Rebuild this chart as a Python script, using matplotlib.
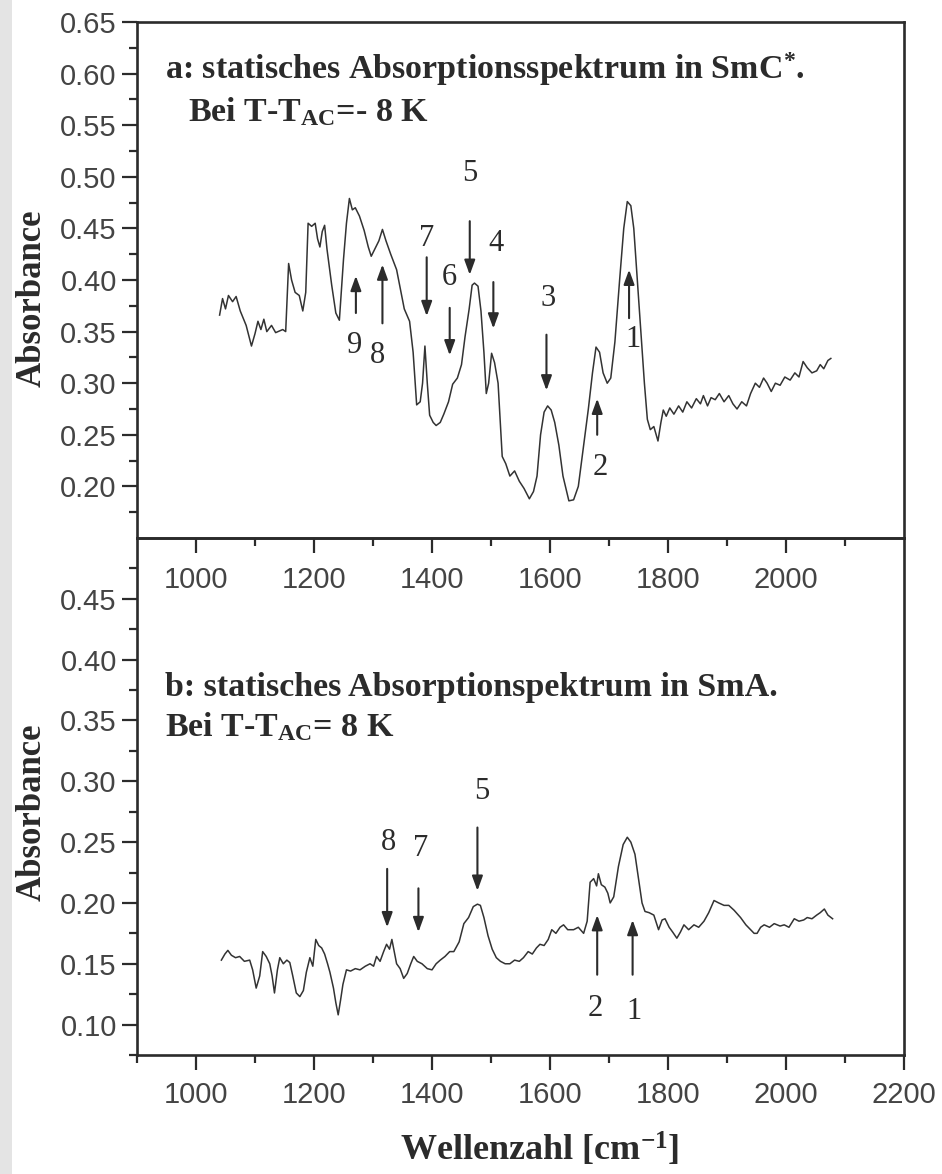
import matplotlib

matplotlib.use("Agg")
import matplotlib.pyplot as plt
from matplotlib.patches import Rectangle
from matplotlib.ticker import FixedLocator, MultipleLocator, FormatStrFormatter

# --- data ---------------------------------------------------------------
# panel a: SmC*  (T - T_AC = -8 K)
wn_a = [1040, 1045, 1050, 1055, 1062, 1068, 1075, 1085, 1094, 1100, 1105, 1110,
        1115, 1120, 1128, 1135, 1147, 1152, 1157, 1162, 1168, 1175, 1181, 1186,
        1190, 1196, 1202, 1206, 1210, 1214, 1218, 1222, 1230, 1237, 1243, 1250,
        1255, 1260, 1265, 1270, 1277, 1285, 1292, 1297, 1303, 1310, 1316, 1322,
        1330, 1340, 1353, 1362, 1368, 1374, 1380, 1384, 1388, 1392, 1396, 1402,
        1407, 1414, 1420, 1428, 1435, 1443, 1450, 1456, 1463, 1468, 1472, 1478,
        1483, 1488, 1492, 1496, 1501, 1506, 1512, 1519, 1525, 1532, 1540, 1548,
        1556, 1565, 1572, 1578, 1584, 1590, 1596, 1602, 1608, 1615, 1622, 1632,
        1640, 1648, 1656, 1665, 1672, 1678, 1684, 1690, 1697, 1703, 1710, 1718,
        1725, 1731, 1737, 1742, 1748, 1754, 1760, 1765, 1770, 1776, 1783, 1788,
        1792, 1797, 1803, 1810, 1818, 1825, 1832, 1840, 1848, 1855, 1860, 1867,
        1873, 1880, 1887, 1895, 1903, 1910, 1917, 1925, 1933, 1940, 1948, 1955,
        1962, 1968, 1975, 1982, 1990, 1998, 2007, 2015, 2022, 2029, 2036, 2044,
        2052, 2058, 2064, 2071, 2076]
ab_a = [0.366, 0.382, 0.372, 0.385, 0.379, 0.384, 0.370, 0.356, 0.336, 0.348, 0.360, 0.352,
        0.362, 0.350, 0.356, 0.349, 0.352, 0.350, 0.416, 0.400, 0.388, 0.385, 0.370, 0.388,
        0.455, 0.452, 0.455, 0.440, 0.432, 0.447, 0.453, 0.430, 0.395, 0.368, 0.361, 0.420,
        0.455, 0.479, 0.468, 0.470, 0.462, 0.448, 0.432, 0.423, 0.430, 0.438, 0.449, 0.438,
        0.425, 0.410, 0.372, 0.360, 0.330, 0.279, 0.282, 0.300, 0.336, 0.300, 0.269, 0.262,
        0.259, 0.262, 0.270, 0.282, 0.299, 0.305, 0.318, 0.345, 0.372, 0.395, 0.397, 0.394,
        0.370, 0.330, 0.290, 0.300, 0.329, 0.320, 0.300, 0.229, 0.222, 0.210, 0.215, 0.205,
        0.198, 0.188, 0.195, 0.210, 0.250, 0.272, 0.278, 0.274, 0.262, 0.240, 0.210, 0.186,
        0.187, 0.200, 0.235, 0.275, 0.310, 0.335, 0.330, 0.310, 0.300, 0.305, 0.340, 0.400,
        0.450, 0.476, 0.472, 0.450, 0.400, 0.350, 0.300, 0.265, 0.255, 0.258, 0.244, 0.262,
        0.274, 0.268, 0.276, 0.270, 0.278, 0.272, 0.282, 0.276, 0.285, 0.280, 0.288, 0.278,
        0.286, 0.284, 0.290, 0.282, 0.288, 0.280, 0.275, 0.282, 0.278, 0.290, 0.300, 0.296,
        0.305, 0.300, 0.292, 0.300, 0.298, 0.306, 0.303, 0.310, 0.306, 0.321, 0.315, 0.310,
        0.312, 0.318, 0.314, 0.322, 0.324]

# panel b: SmA  (T - T_AC = 8 K)
wn_b = [1043, 1049, 1054, 1060, 1067, 1074, 1082, 1091, 1096, 1102, 1108, 1113,
        1119, 1125, 1129, 1133, 1138, 1142, 1148, 1154, 1159, 1164, 1170, 1176,
        1182, 1187, 1193, 1198, 1203, 1208, 1213, 1218, 1223, 1227, 1233, 1237,
        1241, 1245, 1249, 1255, 1262, 1270, 1278, 1287, 1295, 1301, 1306, 1312,
        1318, 1323, 1328, 1332, 1336, 1340, 1346, 1352, 1358, 1364, 1369, 1375,
        1383, 1392, 1400, 1407, 1414, 1422, 1430, 1437, 1446, 1454, 1462, 1470,
        1477, 1482, 1488, 1495, 1502, 1509, 1516, 1524, 1532, 1540, 1548, 1555,
        1563, 1570, 1577, 1583, 1590, 1597, 1603, 1610, 1617, 1623, 1630, 1640,
        1648, 1657, 1663, 1668, 1674, 1679, 1682, 1687, 1693, 1698, 1702, 1708,
        1716, 1724, 1731, 1737, 1744, 1750, 1756, 1761, 1768, 1776, 1784, 1790,
        1795, 1802, 1808, 1815, 1821, 1827, 1835, 1844, 1852, 1861, 1869, 1878,
        1886, 1895, 1903, 1912, 1923, 1932, 1940, 1946, 1951, 1957, 1963, 1972,
        1980, 1990, 1997, 2005, 2014, 2022, 2030, 2036, 2044, 2052, 2058, 2065,
        2071, 2079]
ab_b = [0.153, 0.158, 0.161, 0.157, 0.155, 0.156, 0.152, 0.153, 0.145, 0.130, 0.140, 0.160,
        0.156, 0.150, 0.140, 0.126, 0.145, 0.155, 0.150, 0.153, 0.151, 0.140, 0.126, 0.123,
        0.128, 0.143, 0.155, 0.148, 0.170, 0.165, 0.163, 0.158, 0.150, 0.143, 0.130, 0.118,
        0.108, 0.120, 0.133, 0.145, 0.144, 0.146, 0.145, 0.148, 0.150, 0.148, 0.156, 0.152,
        0.160, 0.166, 0.162, 0.170, 0.160, 0.150, 0.146, 0.138, 0.142, 0.150, 0.156, 0.152,
        0.150, 0.146, 0.145, 0.150, 0.153, 0.156, 0.160, 0.160, 0.168, 0.183, 0.188, 0.197,
        0.199, 0.198, 0.188, 0.173, 0.162, 0.155, 0.152, 0.150, 0.150, 0.153, 0.152, 0.155,
        0.160, 0.158, 0.163, 0.166, 0.165, 0.170, 0.178, 0.175, 0.180, 0.182, 0.178, 0.178,
        0.180, 0.175, 0.185, 0.217, 0.220, 0.214, 0.224, 0.215, 0.213, 0.208, 0.200, 0.205,
        0.230, 0.248, 0.254, 0.250, 0.240, 0.220, 0.200, 0.193, 0.192, 0.190, 0.178, 0.186,
        0.187, 0.180, 0.176, 0.171, 0.176, 0.182, 0.178, 0.182, 0.180, 0.185, 0.192, 0.202,
        0.200, 0.198, 0.198, 0.194, 0.188, 0.182, 0.178, 0.175, 0.175, 0.180, 0.182, 0.180,
        0.183, 0.181, 0.182, 0.180, 0.187, 0.185, 0.186, 0.188, 0.187, 0.190, 0.192, 0.195,
        0.190, 0.187]

# band markers: label, x, label y, arrow tail y, arrow head y
marks_a = [("9", 1269, 0.337, 0.368, 0.404),
           ("8", 1308, 0.327, 0.358, 0.415),
           ("7", 1391, 0.440, 0.422, 0.365),
           ("6", 1430, 0.402, 0.373, 0.327),
           ("5", 1464, 0.503, 0.457, 0.405),
           ("4", 1509, 0.435, 0.398, 0.353),
           ("3", 1596, 0.382, 0.347, 0.293),
           ("2", 1685, 0.218, 0.250, 0.285),
           ("1", 1740, 0.342, 0.363, 0.410)]
arrow_x_a = [1271, 1316, 1391, 1430, 1464, 1504, 1594, 1680, 1734]

marks_b = [("8", 1326, 0.250, 0.228, 0.180),
           ("7", 1381, 0.245, 0.212, 0.176),
           ("5", 1484, 0.292, 0.262, 0.210),
           ("2", 1676, 0.113, 0.141, 0.190),
           ("1", 1742, 0.111, 0.141, 0.186)]
arrow_x_b = [1324, 1377, 1477, 1680, 1740]

title_a = "a: statisches Absorptionsspektrum in SmC$^{*}$."
temp_a = "Bei T-T$_{\\mathrm{AC}}$=- 8 K"
title_b = "b: statisches Absorptionspektrum in SmA."
temp_b = "Bei T-T$_{\\mathrm{AC}}$= 8 K"

# --- style ---------------------------------------------------------------
INK = "#2b2b2b"
SERIF = "Liberation Serif"
SANS = "Liberation Sans"
plt.rcParams["mathtext.fontset"] = "custom"
plt.rcParams["mathtext.rm"] = "Liberation Serif:bold"
plt.rcParams["mathtext.it"] = "Liberation Serif:bold"
plt.rcParams["mathtext.bf"] = "Liberation Serif:bold"
plt.rcParams["mathtext.default"] = "rm"

fig = plt.figure(figsize=(9.42, 11.74), dpi=100)
fig.patches.append(Rectangle((0, 0), 12 / 942, 1, transform=fig.transFigure,
                             facecolor="#e4e4e4", edgecolor="none", zorder=0))

L, W = 137 / 942, 767 / 942
ax_a = fig.add_axes([L, 1 - 538 / 1174, W, 516 / 1174])
ax_b = fig.add_axes([L, 1 - 1055 / 1174, W, 517 / 1174])


def style(ax):
    ax.patch.set_alpha(0)
    for sp in ax.spines.values():
        sp.set_linewidth(1.9)
        sp.set_color(INK)
    ax.tick_params(which="both", direction="out", color=INK, width=1.6,
                   labelsize=21, labelcolor="#444444", top=False, right=False)
    ax.tick_params(which="major", length=11)
    ax.tick_params(which="minor", length=6)
    for lab in ax.get_xticklabels() + ax.get_yticklabels():
        lab.set_fontfamily(SANS)
    ax.yaxis.set_major_formatter(FormatStrFormatter("%.2f"))


def bands(ax, marks, xs):
    for (lab, lx, ly, y0, y1), x in zip(marks, xs):
        ax.annotate("", xy=(x, y1), xytext=(x, y0),
                    arrowprops=dict(arrowstyle="-|>,head_length=0.55,head_width=0.2",
                                    lw=1.5, color=INK, shrinkA=0, shrinkB=0,
                                    mutation_scale=16))
        ax.text(lx, ly, lab, fontsize=22, family=SERIF, color=INK,
                ha="center", va="center")


# panel a
ax_a.plot(wn_a, ab_a, color="#333333", lw=1.1)
ax_a.set_xlim(900, 2200)
ax_a.set_ylim(0.15, 0.65)
ax_a.xaxis.set_major_locator(FixedLocator(range(1000, 2001, 200)))
ax_a.xaxis.set_minor_locator(FixedLocator(range(1100, 2200, 200)))
ax_a.yaxis.set_major_locator(FixedLocator([0.20 + 0.05 * i for i in range(10)]))
ax_a.yaxis.set_minor_locator(FixedLocator([0.175 + 0.05 * i for i in range(10)]))
style(ax_a)
ax_a.tick_params(axis="x", pad=9)
bands(ax_a, marks_a, arrow_x_a)
ax_a.text(948, 0.604, title_a, fontsize=24.5, family=SERIF, weight="bold",
          color=INK, ha="left", va="center")
ax_a.text(986, 0.563, temp_a, fontsize=24.5, family=SERIF, weight="bold",
          color=INK, ha="left", va="center")

# panel b
ax_b.plot(wn_b, ab_b, color="#333333", lw=1.1)
ax_b.set_xlim(900, 2200)
ax_b.set_ylim(0.075, 0.50)
ax_b.xaxis.set_major_locator(MultipleLocator(200))
ax_b.xaxis.set_minor_locator(FixedLocator(range(900, 2200, 200)))
ax_b.yaxis.set_major_locator(FixedLocator([0.10 + 0.05 * i for i in range(8)]))
ax_b.yaxis.set_minor_locator(FixedLocator([0.075 + 0.05 * i for i in range(9)]))
style(ax_b)
ax_b.tick_params(axis="x", pad=8)
bands(ax_b, marks_b, arrow_x_b)
ax_b.text(948, 0.377, title_b, fontsize=24.5, family=SERIF, weight="bold",
          color=INK, ha="left", va="center")
ax_b.text(948, 0.345, temp_b, fontsize=24.5, family=SERIF, weight="bold",
          color=INK, ha="left", va="center")

# axis titles
for yc in (298, 812):
    fig.text(32 / 942, 1 - yc / 1174, "Absorbance", rotation=90, fontsize=25,
             family=SERIF, weight="bold", color=INK, ha="center", va="center")
fig.text(540 / 942, 1 - 1150 / 1174, "Wellenzahl [cm$^{\\mathrm{-1}}$]", fontsize=26,
         family=SERIF, weight="bold", color=INK, ha="center", va="center")

fig.savefig("out.png", dpi=100)
